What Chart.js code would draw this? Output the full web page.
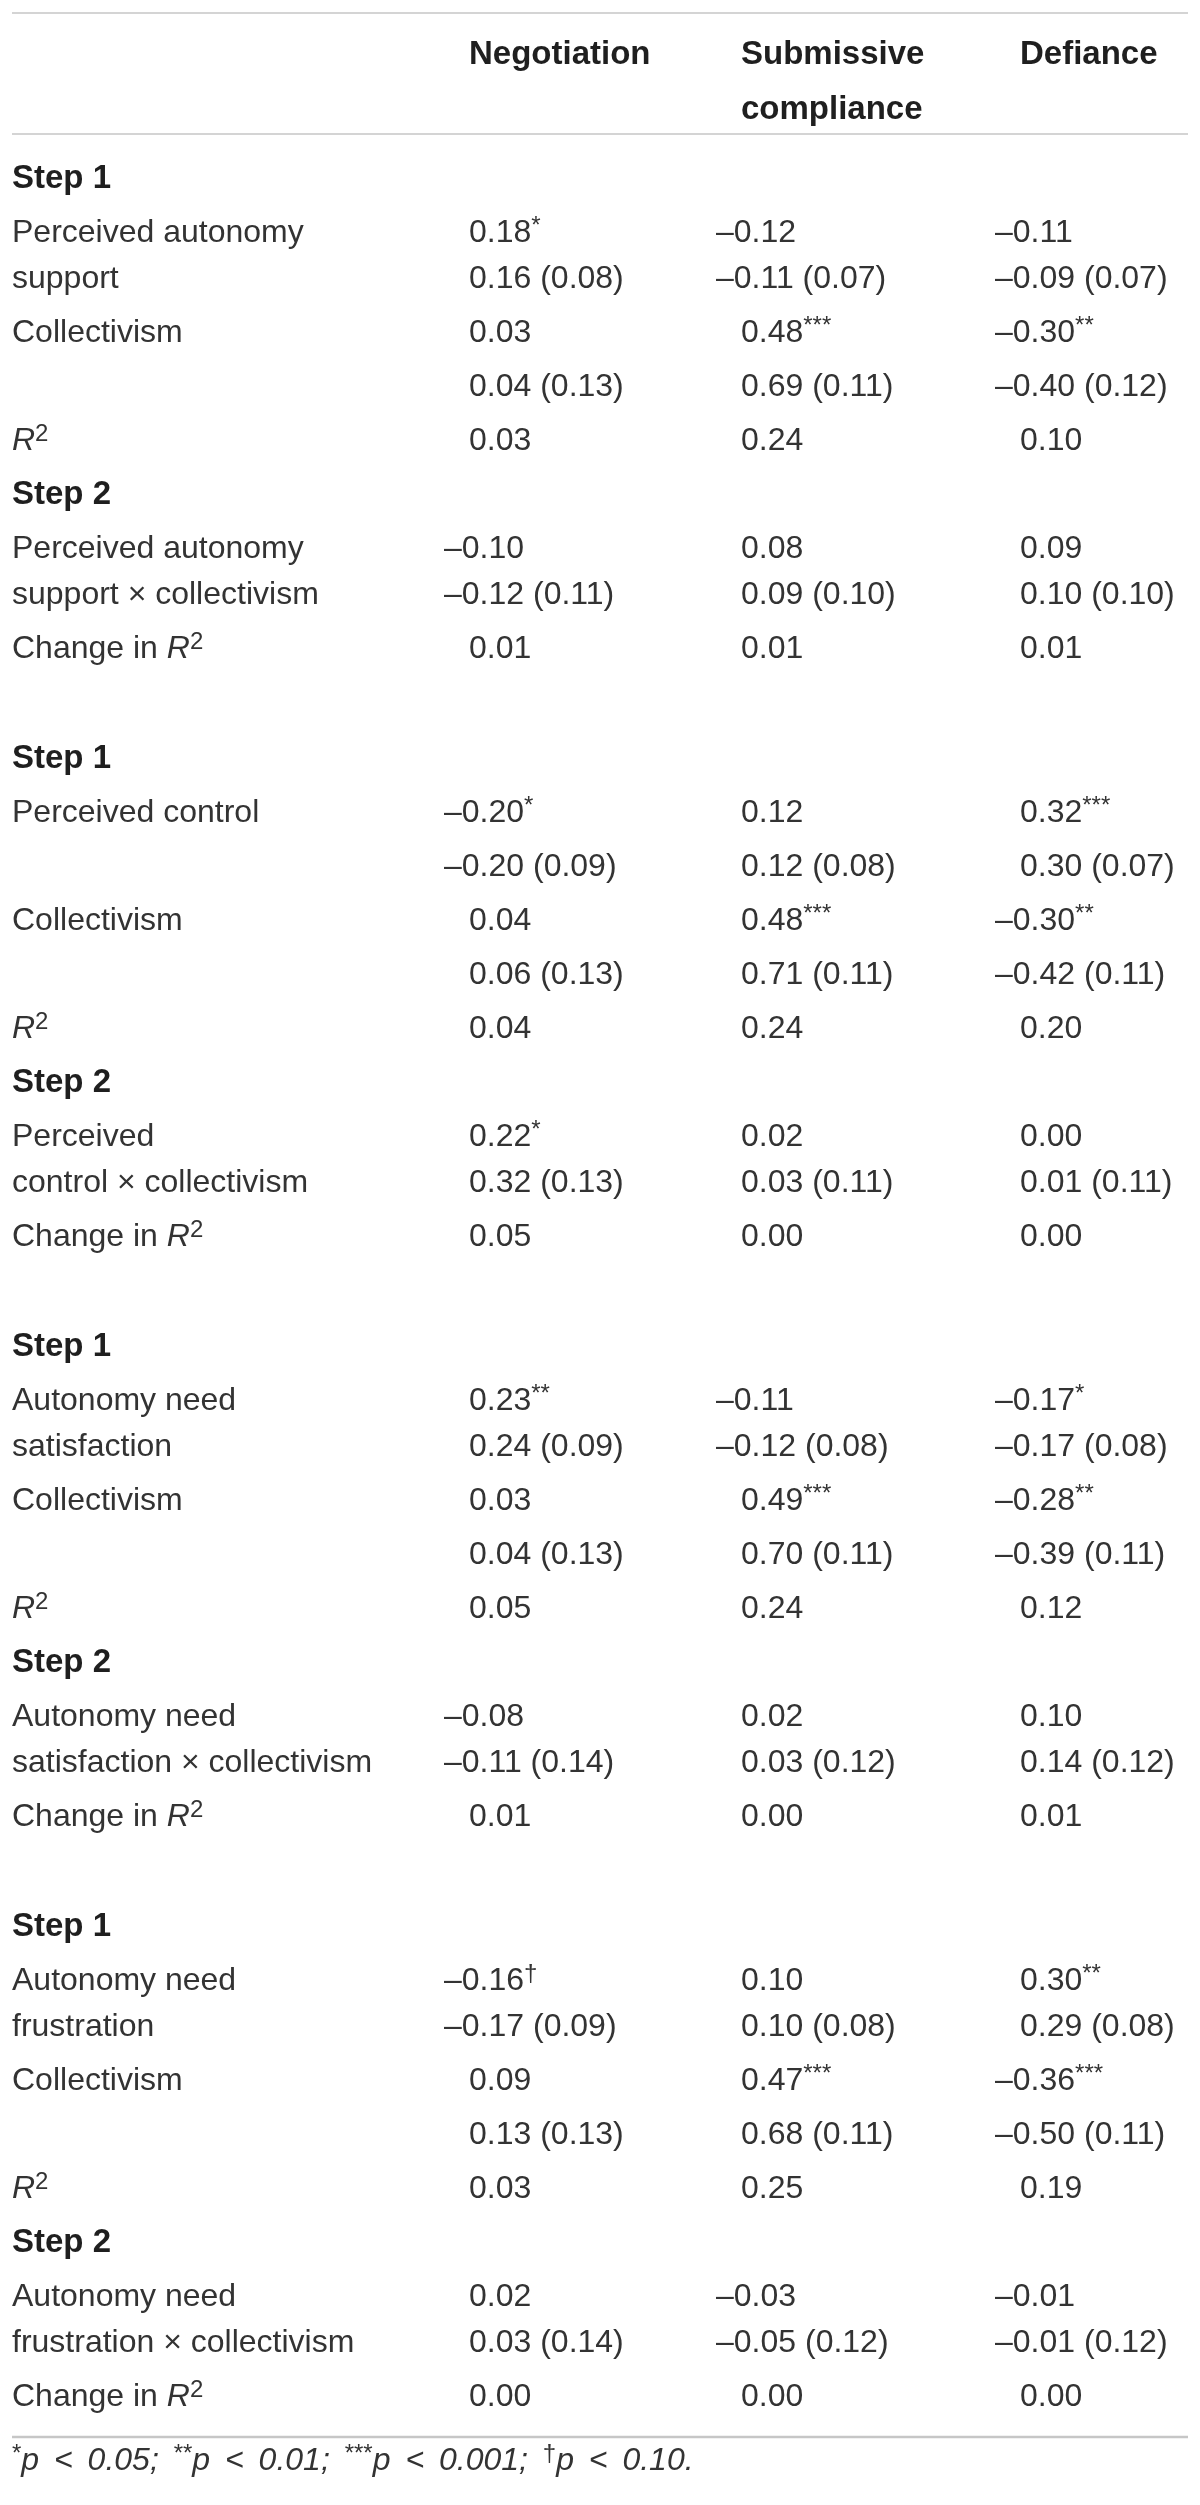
<!DOCTYPE html>
<html>
<head>
<meta charset="utf-8">
<script src="https://cdn.jsdelivr.net/npm/chart.js@4"></script>
<style>
  body { margin: 0; background: #fff; }
  canvas { display: block; }
</style>
</head>
<body>
<canvas id="table" width="1200" height="2505"></canvas>
<script>
// column headings, one array entry per printed line
const headers = [['Negotiation'], ['Submissive', 'compliance'], ['Defiance']];

// one entry per printed line of the table body (4 blocks of 10 lines)
const rowLabels = [
    'Step 1', 'Perceived autonomy', 'support', 'Collectivism', '', 'R²',
    'Step 2', 'Perceived autonomy', 'support × collectivism', 'Change in R²',
    'Step 1', 'Perceived control', '', 'Collectivism', '', 'R²',
    'Step 2', 'Perceived', 'control × collectivism', 'Change in R²',
    'Step 1', 'Autonomy need', 'satisfaction', 'Collectivism', '', 'R²',
    'Step 2', 'Autonomy need', 'satisfaction × collectivism', 'Change in R²',
    'Step 1', 'Autonomy need', 'frustration', 'Collectivism', '', 'R²',
    'Step 2', 'Autonomy need', 'frustration × collectivism', 'Change in R²'
];
const negotiation = [
    '', '0.18*', '0.16 (0.08)', '0.03', '0.04 (0.13)', '0.03', '', '–0.10', '–0.12 (0.11)', '0.01',
    '', '–0.20*', '–0.20 (0.09)', '0.04', '0.06 (0.13)', '0.04', '', '0.22*', '0.32 (0.13)', '0.05',
    '', '0.23**', '0.24 (0.09)', '0.03', '0.04 (0.13)', '0.05', '', '–0.08', '–0.11 (0.14)', '0.01',
    '', '–0.16†', '–0.17 (0.09)', '0.09', '0.13 (0.13)', '0.03', '', '0.02', '0.03 (0.14)', '0.00'
];
const submissive = [
    '', '–0.12', '–0.11 (0.07)', '0.48***', '0.69 (0.11)', '0.24', '', '0.08', '0.09 (0.10)', '0.01',
    '', '0.12', '0.12 (0.08)', '0.48***', '0.71 (0.11)', '0.24', '', '0.02', '0.03 (0.11)', '0.00',
    '', '–0.11', '–0.12 (0.08)', '0.49***', '0.70 (0.11)', '0.24', '', '0.02', '0.03 (0.12)', '0.00',
    '', '0.10', '0.10 (0.08)', '0.47***', '0.68 (0.11)', '0.25', '', '–0.03', '–0.05 (0.12)', '0.00'
];
const defiance = [
    '', '–0.11', '–0.09 (0.07)', '–0.30**', '–0.40 (0.12)', '0.10', '', '0.09', '0.10 (0.10)', '0.01',
    '', '0.32***', '0.30 (0.07)', '–0.30**', '–0.42 (0.11)', '0.20', '', '0.00', '0.01 (0.11)', '0.00',
    '', '–0.17*', '–0.17 (0.08)', '–0.28**', '–0.39 (0.11)', '0.12', '', '0.10', '0.14 (0.12)', '0.01',
    '', '0.30**', '0.29 (0.08)', '–0.36***', '–0.50 (0.11)', '0.19', '', '–0.01', '–0.01 (0.12)', '0.00'
];
// lines that continue the cell above (wrapped text)
const continuation = [2, 8, 18, 22, 28, 32, 38];
const footnote = '*p < 0.05; **p < 0.01; ***p < 0.001; †p < 0.10.';

// layout
const W = 1200, H = 2505;
const colX = [12, 469, 741, 1020];
const FONT = '"Liberation Sans", Arial, sans-serif';
const HANG = 25;            // minus sign hangs left of the column
const lineY = [];
let y = 177;
for (let i = 0; i < rowLabels.length; i++) {
    if (i > 0) {
        if (i % 10 === 0) { y += 110 }
        else if (continuation.includes(i)) { y += 46 }
        else { y += 54 }
    }
    lineY.push(y);
}

function cellsFrom(values, x) {
    let out = [];
    for (let i = 0; i < values.length; i++) {
        if (values[i] === '') continue;
        out.push({x: x, y: lineY[i], text: values[i], bold: values[i].startsWith('Step')});
    }
    return out;
}

let headerCells = [];
for (let c = 0; c < headers.length; c++) {
    for (let k = 0; k < headers[c].length; k++) {
        headerCells.push({x: colX[c + 1], y: 53 + k * 55, text: headers[c][k], bold: true});
    }
}

function rule(yy, width) {
    return {
        type: 'line',
        data: [{x: 12, y: yy}, {x: 1188, y: yy}],
        borderColor: '#c6c6c6',
        borderWidth: width,
        pointRadius: 0,
        showLine: true
    };
}

// split a cell into runs: superscript stars/daggers, italic R in R²
function runs(text, note) {
    let parts = text.split(/([*†²]+)/).filter(p => p !== '');
    let out = [];
    for (let p of parts) {
        if (/^[*†²]+$/.test(p)) {
            out.push({t: p.replace('²', '2'), sup: true});
        } else if (p.endsWith('R') && text.includes('R²')) {
            if (p.length > 1) out.push({t: p.slice(0, -1), italic: note});
            out.push({t: 'R', italic: true});
        } else {
            out.push({t: p, italic: note});
        }
    }
    return out;
}

function drawCell(ctx, cell, x, yy) {
    ctx.save();
    ctx.textAlign = 'left';
    ctx.textBaseline = 'alphabetic';
    let base = yy + 11;
    if (cell.bold) {
        ctx.font = 'bold 33px ' + FONT;
        ctx.fillStyle = '#1f1f1f';
        ctx.fillText(cell.text, x, base);
        ctx.restore();
        return;
    }
    ctx.fillStyle = '#333';
    if (cell.note) { ctx.wordSpacing = '6px' }
    let cx = x;
    if (cell.text.startsWith('–')) { cx -= HANG }
    for (let r of runs(cell.text, !!cell.note)) {
        if (r.sup) {
            ctx.font = '24px ' + FONT;
            ctx.fillText(r.t, cx, base - 9);
        } else {
            ctx.font = (r.italic ? 'italic ' : '') + '32px ' + FONT;
            ctx.fillText(r.t, cx, base);
        }
        cx += ctx.measureText(r.t).width;
    }
    ctx.restore();
}

const cellText = {
    id: 'cellText',
    afterDatasetsDraw(chart) {
        const ctx = chart.ctx;
        chart.data.datasets.forEach((ds, di) => {
            if (!ds.cells) return;
            const meta = chart.getDatasetMeta(di);
            meta.data.forEach((pt, i) => {
                drawCell(ctx, ds.data[i], pt.x, pt.y);
            });
        });
    }
};

function textSet(label, data) {
    return {label: label, cells: true, data: data, pointRadius: 0, pointHoverRadius: 0};
}

new Chart(document.getElementById('table'), {
    type: 'scatter',
    data: {
        datasets: [
            rule(13, 1.5),
            rule(134, 1.5),
            rule(2437, 2.5),
            textSet('header', headerCells),
            textSet('labels', cellsFrom(rowLabels, colX[0])),
            textSet('Negotiation', cellsFrom(negotiation, colX[1])),
            textSet('Submissive compliance', cellsFrom(submissive, colX[2])),
            textSet('Defiance', cellsFrom(defiance, colX[3])),
            textSet('footnote', [{x: colX[0], y: 2459, text: footnote, note: true}])
        ]
    },
    options: {
        responsive: false,
        animation: false,
        layout: {padding: 0},
        scales: {
            x: {type: 'linear', min: 0, max: W, display: false},
            y: {type: 'linear', min: 0, max: H, reverse: true, display: false}
        },
        plugins: {
            legend: {display: false},
            tooltip: {enabled: false}
        },
        clip: false
    },
    plugins: [cellText]
});
</script>
</body>
</html>
